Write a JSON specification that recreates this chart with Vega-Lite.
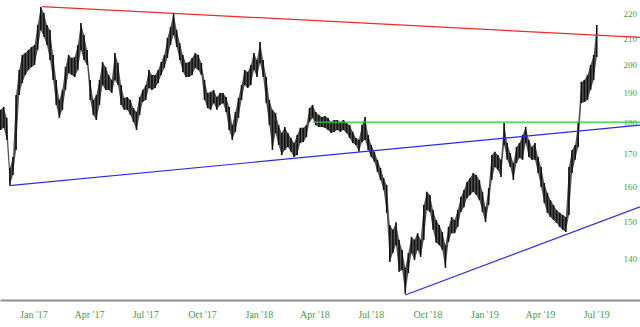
{
  "$schema": "https://vega.github.io/schema/vega-lite/v6.json",
  "width": 640,
  "height": 300,
  "autosize": {"type": "none"},
  "padding": {"left": 0, "top": 0, "right": 0, "bottom": 27},
  "background": "white",
  "config": {"view": {"stroke": null}},
  "datasets": {
    "px": [
      {"d":"2016-11-09","h":184.1,"l":177.4},{"d":"2016-11-14","h":185.1,"l":178.1},{"d":"2016-11-19","h":181.4,"l":174.2},{"d":"2016-11-24","h":165.4,"l":160.3},{"d":"2016-11-29","h":168.8,"l":163.3},{"d":"2016-12-04","h":189.2,"l":171.0},{"d":"2016-12-09","h":198.1,"l":189.2},{"d":"2016-12-14","h":203.7,"l":193.4},{"d":"2016-12-19","h":204.4,"l":196.3},{"d":"2016-12-24","h":205.6,"l":198.1},{"d":"2016-12-29","h":206.7,"l":199.2},
      {"d":"2017-01-03","h":207.5,"l":200.0},{"d":"2017-01-08","h":215.3,"l":205.6},{"d":"2017-01-13","h":222.5,"l":213.3},{"d":"2017-01-18","h":220.1,"l":210.6},{"d":"2017-01-23","h":215.3,"l":207.5},{"d":"2017-01-28","h":213.3,"l":201.8},{"d":"2017-02-02","h":203.7,"l":194.5},{"d":"2017-02-07","h":194.5,"l":185.8},{"d":"2017-02-12","h":187.5,"l":181.4},{"d":"2017-02-17","h":191.0,"l":184.1},{"d":"2017-02-22","h":199.2,"l":191.0},{"d":"2017-02-27","h":203.7,"l":197.0},
      {"d":"2017-03-04","h":202.6,"l":196.3},{"d":"2017-03-09","h":202.9,"l":195.6},{"d":"2017-03-14","h":207.5,"l":198.1},{"d":"2017-03-19","h":216.0,"l":205.6},{"d":"2017-03-24","h":211.3,"l":201.8},{"d":"2017-03-29","h":205.6,"l":200.0},{"d":"2017-04-03","h":194.5,"l":187.5},{"d":"2017-04-08","h":187.5,"l":182.4},{"d":"2017-04-13","h":189.2,"l":180.7},{"d":"2017-04-18","h":194.5,"l":185.8},{"d":"2017-04-23","h":201.1,"l":192.7},{"d":"2017-04-28","h":199.2,"l":191.0},
      {"d":"2017-05-03","h":196.3,"l":191.0},{"d":"2017-05-08","h":194.5,"l":189.9},{"d":"2017-05-13","h":204.4,"l":194.5},{"d":"2017-05-18","h":200.7,"l":192.7},{"d":"2017-05-23","h":192.7,"l":185.8},{"d":"2017-05-28","h":188.2,"l":184.1},{"d":"2017-06-02","h":188.5,"l":184.1},{"d":"2017-06-07","h":187.5,"l":182.4},{"d":"2017-06-12","h":184.7,"l":180.0},{"d":"2017-06-17","h":183.4,"l":177.4},{"d":"2017-06-22","h":188.5,"l":182.4},{"d":"2017-06-27","h":191.0,"l":186.8},
      {"d":"2017-07-02","h":192.7,"l":187.5},{"d":"2017-07-07","h":198.1,"l":191.7},{"d":"2017-07-12","h":196.3,"l":191.0},{"d":"2017-07-17","h":196.3,"l":191.7},{"d":"2017-07-22","h":198.1,"l":193.4},{"d":"2017-07-27","h":201.1,"l":196.3},{"d":"2017-08-01","h":203.7,"l":198.9},{"d":"2017-08-06","h":210.2,"l":202.6},{"d":"2017-08-11","h":214.5,"l":207.5},{"d":"2017-08-16","h":220.1,"l":211.3},{"d":"2017-08-21","h":213.3,"l":206.7},{"d":"2017-08-26","h":208.2,"l":201.8},{"d":"2017-08-31","h":203.7,"l":197.4},
      {"d":"2017-09-05","h":200.7,"l":195.6},{"d":"2017-09-10","h":201.1,"l":195.6},{"d":"2017-09-15","h":202.6,"l":196.3},{"d":"2017-09-20","h":204.4,"l":198.9},{"d":"2017-09-25","h":203.7,"l":198.1},{"d":"2017-09-30","h":200.7,"l":196.3},{"d":"2017-10-05","h":194.5,"l":187.5},{"d":"2017-10-10","h":189.9,"l":184.7},{"d":"2017-10-15","h":190.3,"l":184.1},{"d":"2017-10-20","h":191.0,"l":186.4},{"d":"2017-10-25","h":188.5,"l":184.1},{"d":"2017-10-30","h":189.9,"l":185.8},
      {"d":"2017-11-04","h":189.9,"l":186.4},{"d":"2017-11-09","h":188.5,"l":183.4},{"d":"2017-11-14","h":185.1,"l":177.4},{"d":"2017-11-19","h":179.0,"l":174.2},{"d":"2017-11-24","h":183.4,"l":176.8},{"d":"2017-11-29","h":188.2,"l":181.4},{"d":"2017-12-04","h":192.7,"l":187.5},{"d":"2017-12-09","h":198.1,"l":192.7},{"d":"2017-12-14","h":197.4,"l":191.7},{"d":"2017-12-19","h":200.0,"l":192.7},{"d":"2017-12-24","h":204.4,"l":198.1},{"d":"2017-12-29","h":201.8,"l":195.6},
      {"d":"2018-01-03","h":208.6,"l":200.7},{"d":"2018-01-08","h":201.8,"l":195.6},{"d":"2018-01-13","h":195.6,"l":186.4},{"d":"2018-01-18","h":187.5,"l":179.0},{"d":"2018-01-23","h":184.1,"l":171.0},{"d":"2018-01-28","h":183.0,"l":176.4},{"d":"2018-02-02","h":179.0,"l":172.6},{"d":"2018-02-07","h":176.4,"l":169.4},{"d":"2018-02-12","h":178.4,"l":171.0},{"d":"2018-02-17","h":176.4,"l":171.9},{"d":"2018-02-22","h":174.8,"l":170.4},{"d":"2018-02-27","h":173.2,"l":168.8},
      {"d":"2018-03-04","h":175.8,"l":169.4},{"d":"2018-03-09","h":178.1,"l":173.2},{"d":"2018-03-14","h":178.1,"l":173.5},{"d":"2018-03-19","h":179.0,"l":175.1},{"d":"2018-03-24","h":184.7,"l":180.0},{"d":"2018-03-29","h":185.8,"l":181.4},{"d":"2018-04-03","h":183.4,"l":179.0},{"d":"2018-04-08","h":182.4,"l":178.4},{"d":"2018-04-13","h":181.7,"l":178.4},{"d":"2018-04-18","h":182.0,"l":178.1},{"d":"2018-04-23","h":181.4,"l":177.4},{"d":"2018-04-28","h":180.0,"l":176.4},
      {"d":"2018-05-03","h":180.7,"l":176.8},{"d":"2018-05-08","h":180.7,"l":177.4},{"d":"2018-05-13","h":180.0,"l":176.8},{"d":"2018-05-18","h":180.7,"l":177.4},{"d":"2018-05-23","h":179.7,"l":176.4},{"d":"2018-05-28","h":179.0,"l":174.8},{"d":"2018-06-02","h":176.8,"l":173.2},{"d":"2018-06-07","h":174.8,"l":172.6},{"d":"2018-06-12","h":174.2,"l":170.4},{"d":"2018-06-17","h":179.0,"l":173.5},{"d":"2018-06-22","h":181.7,"l":174.2},{"d":"2018-06-27","h":175.8,"l":171.0},
      {"d":"2018-07-02","h":172.6,"l":168.8},{"d":"2018-07-07","h":170.4,"l":167.3},{"d":"2018-07-12","h":167.9,"l":164.2},{"d":"2018-07-17","h":165.4,"l":161.8},{"d":"2018-07-22","h":162.4,"l":158.8},{"d":"2018-07-27","h":160.3,"l":152.3},{"d":"2018-08-01","h":148.9,"l":139.1},{"d":"2018-08-06","h":147.6,"l":141.4},{"d":"2018-08-11","h":149.7,"l":143.5},{"d":"2018-08-16","h":144.9,"l":136.6},{"d":"2018-08-21","h":142.2,"l":137.1},{"d":"2018-08-26","h":137.6,"l":131.2},{"d":"2018-08-31","h":141.4,"l":136.3},
      {"d":"2018-09-05","h":145.7,"l":141.4},{"d":"2018-09-10","h":144.9,"l":139.6},{"d":"2018-09-15","h":146.7,"l":142.2},{"d":"2018-09-20","h":144.9,"l":140.4},{"d":"2018-09-25","h":154.5,"l":144.9},{"d":"2018-09-30","h":158.3,"l":153.1},{"d":"2018-10-05","h":157.4,"l":152.5},{"d":"2018-10-10","h":153.1,"l":147.6},{"d":"2018-10-15","h":150.3,"l":144.1},{"d":"2018-10-20","h":148.9,"l":143.5},{"d":"2018-10-25","h":147.0,"l":142.2},{"d":"2018-10-30","h":143.5,"l":137.6},
      {"d":"2018-11-04","h":148.4,"l":144.3},{"d":"2018-11-09","h":151.1,"l":146.7},{"d":"2018-11-14","h":150.3,"l":146.7},{"d":"2018-11-19","h":153.1,"l":148.4},{"d":"2018-11-24","h":156.8,"l":152.5},{"d":"2018-11-29","h":158.8,"l":153.9},{"d":"2018-12-04","h":161.2,"l":156.5},{"d":"2018-12-09","h":162.4,"l":157.4},{"d":"2018-12-14","h":163.9,"l":158.3},{"d":"2018-12-19","h":163.3,"l":157.4},{"d":"2018-12-24","h":161.8,"l":155.9},{"d":"2018-12-29","h":158.3,"l":152.5},
      {"d":"2019-01-03","h":153.9,"l":149.7},{"d":"2019-01-08","h":159.4,"l":154.5},{"d":"2019-01-13","h":169.4,"l":161.8},{"d":"2019-01-18","h":170.4,"l":165.7},{"d":"2019-01-23","h":169.4,"l":164.8},{"d":"2019-01-28","h":167.9,"l":162.7},{"d":"2019-02-02","h":179.7,"l":172.6},{"d":"2019-02-07","h":173.2,"l":167.9},{"d":"2019-02-12","h":170.0,"l":165.7},{"d":"2019-02-17","h":166.9,"l":161.8},{"d":"2019-02-22","h":171.9,"l":166.9},{"d":"2019-02-27","h":173.2,"l":168.5},
      {"d":"2019-03-04","h":175.8,"l":167.9},{"d":"2019-03-09","h":178.4,"l":173.2},{"d":"2019-03-14","h":174.2,"l":168.8},{"d":"2019-03-19","h":171.9,"l":167.9},{"d":"2019-03-24","h":173.2,"l":167.9},{"d":"2019-03-29","h":168.8,"l":163.9},{"d":"2019-04-03","h":165.7,"l":159.7},{"d":"2019-04-08","h":160.9,"l":155.1},{"d":"2019-04-13","h":158.0,"l":152.3},{"d":"2019-04-18","h":155.9,"l":151.1},{"d":"2019-04-23","h":154.5,"l":150.3},{"d":"2019-04-28","h":153.1,"l":149.5},
      {"d":"2019-05-03","h":152.3,"l":148.4},{"d":"2019-05-08","h":151.7,"l":147.6},{"d":"2019-05-13","h":151.1,"l":147.0},{"d":"2019-05-18","h":165.7,"l":151.7},{"d":"2019-05-23","h":171.0,"l":163.9},{"d":"2019-05-28","h":172.6,"l":167.9},{"d":"2019-06-02","h":180.0,"l":171.9},{"d":"2019-06-07","h":193.8,"l":186.4},{"d":"2019-06-12","h":194.5,"l":186.8},{"d":"2019-06-17","h":196.3,"l":187.5},{"d":"2019-06-22","h":200.0,"l":191.0},{"d":"2019-06-27","h":203.7,"l":194.5},{"d":"2019-07-02","h":215.3,"l":202.9}
    ],
    "lines": [
      {"k":"red","d":"2017-01-15","p":222.7},{"k":"red","d":"2019-09-10","p":210.4},
      {"k":"green","d":"2018-03-30","p":180},{"k":"green","d":"2019-09-10","p":180},
      {"k":"blue1","d":"2016-11-23","p":160.1},{"k":"blue1","d":"2019-09-10","p":179.0},
      {"k":"blue2","d":"2018-08-26","p":130.9},{"k":"blue2","d":"2019-09-10","p":154.0}
    ]
  },
  "layer": [
    {
      "data": {"name": "px"},
      "mark": {"type": "area", "color": "#1a1a1a", "opacity": 0.75, "interpolate": "linear"},
      "encoding": {
        "x": {
          "field": "d", "type": "temporal",
          "scale": {"type": "utc", "domain": [{"year": 2016, "month": 11, "date": 8, "utc": true}, {"year": 2019, "month": 9, "date": 10, "utc": true}]},
          "axis": {
            "orient": "bottom", "title": null, "grid": false, "ticks": false,
            "values": [
              {"year": 2017, "month": 1, "date": 1, "utc": true},{"year": 2017, "month": 4, "date": 1, "utc": true},{"year": 2017, "month": 7, "date": 1, "utc": true},{"year": 2017, "month": 10, "date": 1, "utc": true},
              {"year": 2018, "month": 1, "date": 1, "utc": true},{"year": 2018, "month": 4, "date": 1, "utc": true},{"year": 2018, "month": 7, "date": 1, "utc": true},{"year": 2018, "month": 10, "date": 1, "utc": true},
              {"year": 2019, "month": 1, "date": 1, "utc": true},{"year": 2019, "month": 4, "date": 1, "utc": true},{"year": 2019, "month": 7, "date": 1, "utc": true}
            ],
            "format": "%b '%y",
            "labelFont": "Liberation Serif", "labelFontSize": 10, "labelColor": "#3f9f3f",
            "labelPadding": 9, "labelFlush": false, "labelOverlap": false,
            "domainColor": "#909090", "domainWidth": 2
          }
        },
        "y": {
          "field": "h", "type": "quantitative",
          "scale": {"type": "log", "domain": [129.7, 225.4], "nice": false, "zero": false},
          "axis": {
            "orient": "right", "offset": -19, "title": null, "grid": false, "ticks": false, "domain": false,
            "values": [140, 150, 160, 170, 180, 190, 200, 210, 220],
            "format": "d",
            "labelFont": "Liberation Serif", "labelFontSize": 9, "labelColor": "#3f9f3f",
            "labelPadding": 2, "labelAlign": "left", "labelFlush": false, "labelOverlap": false
          }
        },
        "y2": {"field": "l"}
      }
    },
    {
      "data": {"name": "px"},
      "mark": {"type": "rule", "color": "#111111", "strokeWidth": 1.6},
      "encoding": {
        "x": {"field": "d", "type": "temporal"},
        "y": {"field": "h", "type": "quantitative"},
        "y2": {"field": "l"}
      }
    },
    {
      "data": {"name": "lines"},
      "mark": {"type": "line", "strokeWidth": 1.2},
      "encoding": {
        "x": {"field": "d", "type": "temporal"},
        "y": {"field": "p", "type": "quantitative"},
        "color": {
          "field": "k", "type": "nominal",
          "scale": {"domain": ["red", "green", "blue1", "blue2"], "range": ["#f02a2a", "#2ecc2e", "#2a2af0", "#2a2af0"]},
          "legend": null
        }
      }
    }
  ]
}
